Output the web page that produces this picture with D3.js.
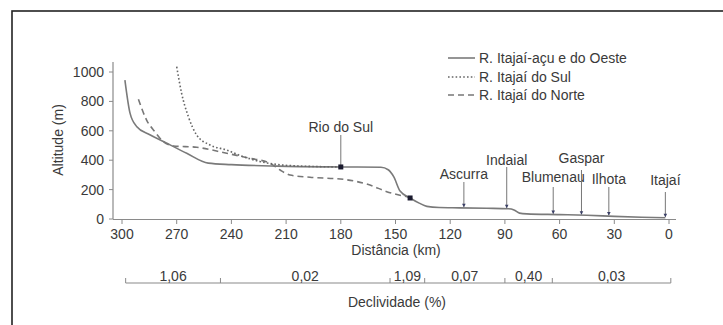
<!DOCTYPE html>
<html><head><meta charset="utf-8">
<script src="https://cdn.jsdelivr.net/npm/d3@7"></script>
<style>
html,body{margin:0;padding:0;background:#fff;}
svg{display:block;font-family:"Liberation Sans",Arial,sans-serif;}
</style></head>
<body><svg id="c" width="723" height="325"></svg>
<script>
// ---- data ----
const xTicks = [300, 270, 240, 210, 180, 150, 120, 90, 60, 30, 0];
const yTicks = [0, 200, 400, 600, 800, 1000];
const seriesNames = ["R. Itajaí-açu e do Oeste", "R. Itajaí do Sul", "R. Itajaí do Norte"];
// [distance km, altitude m]
const oeste = [[298.4,945],[295.6,720],[292,630],[285,575],[277,526],[264.5,447],[252.7,380],[240,370],[215,360],[180,354],[158,352],[154,335],[151,288],[147.5,190],[142,143],[137,108],[132.8,86],[126,78],[115,76],[100,73],[88,70],[85,62],[82,40],[78,35],[60,30],[45,25],[30,18],[15,12],[2,8]];
const sul = [[270,1036],[267.3,855],[263.6,696],[259,571],[251.7,503],[242.6,469],[233.5,424],[224,390],[206,362],[180,354]];
const norte = [[291,814],[286.5,673],[282,594],[277.3,526],[271.8,497],[259,488],[242.6,447],[229.8,413],[218.8,379],[213.3,333],[207.8,299],[196.9,284],[178.6,270],[164,231],[154.8,186],[142,148]];
const places = ["Rio do Sul","Ascurra","Indaial","Blumenau","Gaspar","Ilhota","Itajaí"];
const placeKm = [180, 112.5, 89, 63.5, 48, 33, 2];
const placeAlt = [354, 76, 70, 30, 26, 20, 8];
const slopeBounds = [298, 246, 153, 134, 90, 64, -1];
const slopeLabels = ["1,06","0,02","1,09","0,07","0,40","0,03"];
const markerPts = [[180,354],[142,143]];

// ---- layout ----
const placeLabelY = [127, 174, 160, 177, 158, 179, 180];
const placeLineTop = [135, 182, 167, 187, 170, 187, 192];

const svg = d3.select("#c");
const x = d3.scaleLinear().domain([300,0]).range([122,669]);
const y = d3.scaleLinear().domain([0,1000]).range([219,72]);
const axisCol = "#8a8a8a", textCol = "#3a3a3a", fs = 14;

// frame
svg.append("rect").attr("x",12).attr("y",11).attr("width",740).attr("height",340)
  .attr("fill","none").attr("stroke","#222").attr("stroke-width",1.6);

// y axis
svg.append("line").attr("x1",113).attr("x2",113).attr("y1",62).attr("y2",219).attr("stroke",axisCol).attr("stroke-width",1.2);
const yg = svg.append("g");
yTicks.forEach(v=>{
  yg.append("line").attr("x1",109).attr("x2",113).attr("y1",y(v)).attr("y2",y(v)).attr("stroke",axisCol);
  yg.append("text").attr("x",104).attr("y",y(v)).attr("dy","0.35em").attr("text-anchor","end")
    .attr("font-size",fs).attr("fill",textCol).text(v);
});
svg.append("text").attr("transform","translate(58,140) rotate(-90)").attr("text-anchor","middle")
  .attr("dy","0.35em").attr("font-size",fs).attr("fill",textCol).text("Altitude (m)");

// x axis
svg.append("line").attr("x1",113).attr("x2",676).attr("y1",219.5).attr("y2",219.5).attr("stroke",axisCol).attr("stroke-width",1.2);
xTicks.forEach(v=>{
  svg.append("line").attr("x1",x(v)).attr("x2",x(v)).attr("y1",219.5).attr("y2",224).attr("stroke",axisCol);
  svg.append("text").attr("x",x(v)).attr("y",234).attr("dy","0.35em").attr("text-anchor","middle")
    .attr("font-size",fs).attr("fill",textCol).text(v);
});
svg.append("text").attr("x",396).attr("y",250).attr("dy","0.35em").attr("text-anchor","middle")
  .attr("font-size",fs).attr("fill",textCol).text("Distância (km)");

// series
const line = d3.line().x(d=>x(d[0])).y(d=>y(d[1])).curve(d3.curveMonotoneX);
const styles = [
  {data: oeste, color:"#7a7a7a", dash:null, w:1.6},
  {data: sul, color:"#666", dash:"1.6,2.2", w:1.6},
  {data: norte, color:"#777", dash:"6,4", w:1.6}
];
[styles[0], styles[2], styles[1]].forEach(s=>{
  svg.append("path").attr("d",line(s.data)).attr("fill","none").attr("stroke",s.color)
    .attr("stroke-width",s.w).attr("stroke-dasharray",s.dash);
});

// place labels and arrows
places.forEach((p,i)=>{
  const px = x(placeKm[i]);
  svg.append("text").attr("x",px).attr("y",placeLabelY[i]).attr("dy","0.35em").attr("text-anchor","middle")
    .attr("font-size",fs).attr("fill",textCol).text(p);
  const yb = y(placeAlt[i]);
  svg.append("line").attr("x1",px).attr("x2",px).attr("y1",placeLineTop[i]).attr("y2",yb-1)
    .attr("stroke","#777").attr("stroke-width",1);
  if(i>0){
    svg.append("path").attr("d",`M${px-1.8},${yb-4}L${px+1.8},${yb-4}L${px},${yb-0.5}Z`).attr("fill","#3a3f66");
  }
});
markerPts.forEach(m=>{
  svg.append("rect").attr("x",x(m[0])-2.5).attr("y",y(m[1])-2.5).attr("width",5).attr("height",5).attr("fill","#1a1a2e");
});

// legend
const legY = [58, 77, 95];
styles.forEach((s,i)=>{
  svg.append("line").attr("x1",448).attr("x2",475).attr("y1",legY[i]).attr("y2",legY[i])
    .attr("stroke",s.color).attr("stroke-width",s.w).attr("stroke-dasharray",s.dash);
  svg.append("text").attr("x",479).attr("y",legY[i]).attr("dy","0.35em").attr("font-size",fs)
    .attr("fill",textCol).text(seriesNames[i]);
});

// slope bar
const sy = 283;
svg.append("line").attr("x1",x(slopeBounds[0])).attr("x2",x(slopeBounds[slopeBounds.length-1]))
  .attr("y1",sy).attr("y2",sy).attr("stroke",axisCol).attr("stroke-width",1.2);
slopeBounds.forEach(b=>{
  svg.append("line").attr("x1",x(b)).attr("x2",x(b)).attr("y1",sy-5).attr("y2",sy).attr("stroke",axisCol);
});
slopeLabels.forEach((l,i)=>{
  const cx = (x(slopeBounds[i])+x(slopeBounds[i+1]))/2;
  svg.append("text").attr("x",cx).attr("y",276).attr("dy","0.35em").attr("text-anchor","middle")
    .attr("font-size",fs).attr("fill",textCol).text(l);
});
svg.append("text").attr("x",397).attr("y",302).attr("dy","0.35em").attr("text-anchor","middle")
  .attr("font-size",fs).attr("fill",textCol).text("Declividade (%)");
</script></body></html>
